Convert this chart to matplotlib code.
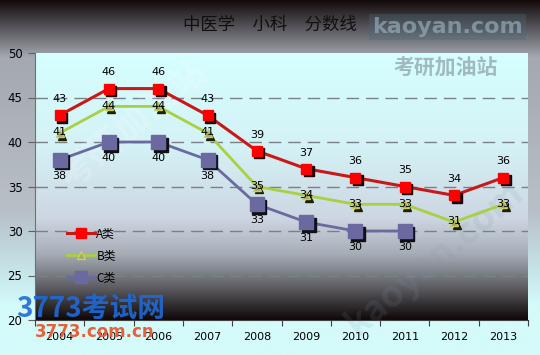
import numpy as np
import matplotlib
matplotlib.use("Agg")
import matplotlib.pyplot as plt
from matplotlib.colors import LinearSegmentedColormap
from matplotlib.transforms import offset_copy
from matplotlib.lines import Line2D

plt.rcParams['font.family'] = ['Noto Sans CJK SC', 'DejaVu Sans']

years = ['2004', '2005', '2006', '2007', '2008', '2009', '2010', '2011', '2012', '2013']
a_vals = [43, 46, 46, 43, 39, 37, 36, 35, 34, 36]
b_vals = [41, 44, 44, 41, 35, 34, 33, 33, 31, 33]
c_vals = [38, 40, 40, 38, 33, 31, 30, 30]
series_names = ['A类', 'B类', 'C类']
title = '中医学　小科　分数线'

W, H = 540, 355
fig = plt.figure(figsize=(W / 100, H / 100), dpi=100)

# figure background gradient
bg = fig.add_axes([0, 0, 1, 1], zorder=-10)
bg_cmap = LinearSegmentedColormap.from_list('bg', [
    (0.0, '#140c0c'), (0.10, '#6c6c74'), (0.16, '#a4a8b0'),
    (0.60, '#b8c0c8'), (0.78, '#c8e8ec'), (0.86, '#d4fafa'), (1.0, '#d4fafa')])
bg.imshow(np.linspace(0, 1, 256).reshape(-1, 1), aspect='auto', cmap=bg_cmap,
          extent=[0, 1, 0, 1], origin='upper')
bg.set_axis_off()

ax_l, ax_r, ax_b, ax_t = 35 / W, 528 / W, 1 - 320 / H, 1 - 53 / H
ax = fig.add_axes([ax_l, ax_b, ax_r - ax_l, ax_t - ax_b])
ax.set_xlim(-0.5, 9.5)
ax.set_ylim(20, 50)

pa_cmap = LinearSegmentedColormap.from_list('pa', [
    (0.0, '#d6ffff'), (0.35, '#d4f2f6'), (0.62, '#cdd6e2'),
    (0.75, '#a8aeb8'), (0.86, '#686a70'), (1.0, '#100808')])
ax.imshow(np.linspace(0, 1, 256).reshape(-1, 1), aspect='auto', cmap=pa_cmap,
          extent=[-0.5, 9.5, 20, 50], origin='upper', zorder=0)

for yv in [25, 30, 35, 40, 45]:
    ax.axhline(yv, color='#7a8088', lw=1, dashes=(9, 5), zorder=1)

x = np.arange(len(years))
xc = np.arange(len(c_vals))

# faint diagonal watermarks
ax.text(1.5, 42, '考研加油站', rotation=40, fontsize=26, color='white', alpha=0.18,
        ha='center', va='center', fontweight='bold', zorder=1)
ax.text(7.6, 27, 'kaoyan.com', rotation=40, fontsize=26, color='#8098a8', alpha=0.14,
        ha='center', va='center', fontweight='bold', zorder=1)

# lines
ax.plot(x, a_vals, color='#c81818', lw=2.2, zorder=3)
ax.plot(x, b_vals, color='#a8d040', lw=2.0, zorder=3)
ax.plot(xc, c_vals, color='#6a6aa0', lw=2.0, zorder=3)

sh = offset_copy(ax.transData, fig=fig, x=1.8, y=-1.8, units='points')
ax.plot(x, a_vals, ls='none', marker='s', ms=7.5, color='#200000', transform=sh, zorder=4)
ax.plot(x, a_vals, ls='none', marker='s', ms=7.5, color='#ff0000', mec='#ff0000', zorder=5)
ax.plot(x, b_vals, ls='none', marker='^', ms=6, color='#202000', transform=sh, zorder=4)
ax.plot(x, b_vals, ls='none', marker='^', ms=6, color='#a0a870', mec='#c8d060', zorder=5)
ax.plot(xc, c_vals, ls='none', marker='s', ms=10, color='#101018', transform=sh, zorder=4)
ax.plot(xc, c_vals, ls='none', marker='s', ms=10, color='#6a6aa0', mec='#6a6aa0', zorder=5)

lab_fs = 8
for xi, v in zip(x, a_vals):
    ax.annotate(str(v), (xi, v), xytext=(0, 8), textcoords='offset points',
                ha='center', va='bottom', fontsize=lab_fs, family='DejaVu Sans', zorder=6)
for xi, v in zip(x, b_vals):
    ax.annotate(str(v), (xi, v), xytext=(0, 0.5), textcoords='offset points',
                ha='center', va='center', fontsize=lab_fs, family='DejaVu Sans', zorder=6)
for xi, v in zip(xc, c_vals):
    ax.annotate(str(v), (xi, v), xytext=(0, -8), textcoords='offset points',
                ha='center', va='top', fontsize=lab_fs, family='DejaVu Sans', zorder=6)

handles = [
    Line2D([], [], color='#c81818', lw=2.2, marker='s', ms=7, mfc='#ff0000', mec='#ff0000'),
    Line2D([], [], color='#a8d040', lw=2.0, marker='^', ms=6, mfc='#a0a870', mec='#c8d060'),
    Line2D([], [], color='#6a6aa0', lw=2.0, marker='s', ms=9, mfc='#6a6aa0', mec='#6a6aa0'),
]
leg = ax.legend(handles, series_names, loc='upper left', bbox_to_anchor=(0.055, 0.365),
                frameon=False, fontsize=8.5, handlelength=2.4, handletextpad=0.1,
                labelspacing=0.75, borderaxespad=0)
leg.set_zorder(7)

ax.set_xticks(np.arange(-0.5, 10, 1))
ax.set_xticklabels([])
ax.set_xticks(x, minor=True)
ax.set_xticklabels(years, minor=True, fontsize=8, family='DejaVu Sans')
ax.tick_params(axis='x', which='major', length=4, color='#404040', direction='out')
ax.tick_params(axis='x', which='minor', length=0, pad=9)
ax.set_yticks([20, 25, 30, 35, 40, 45, 50])
ax.set_yticklabels(['20', '25', '30', '35', '40', '45', '50'], fontsize=8.5, family='DejaVu Sans')
ax.tick_params(axis='y', length=5, color='#606060', direction='out', pad=4)
for s in ['top', 'right']:
    ax.spines[s].set_visible(False)
ax.spines['left'].set_color('#707078')
ax.spines['bottom'].set_color('#404040')

# logos / watermarks (behind title)
fig.text(372 / W, 1 - 27 / H, 'kaoyan.com', ha='left', va='center', fontsize=16,
         color='#a0b8c4', alpha=0.6, fontweight='bold', family='DejaVu Sans',
         bbox=dict(boxstyle='square,pad=0.15', fc='#4a6878', ec='none', alpha=0.35))
fig.text(445 / W, 1 - 68 / H, '考研加油站', ha='center', va='center', fontsize=15,
         color='#90a4ac', alpha=0.75, fontweight='bold')
fig.text(270 / W, 1 - 25 / H, title, ha='center', va='center', fontsize=12.5, color='#101010')

fig.text(16 / W, 1 - 309 / H, '3773考试网', ha='left', va='center', fontsize=20,
         color='#1e6ad8', style='italic', fontweight='bold', alpha=0.9)
fig.text(35 / W, 1 - 332 / H, '3773.com.cn', ha='left', va='center', fontsize=12,
         color='#e8603a', fontweight='bold', family='DejaVu Sans')

fig.savefig('out.png', dpi=100)
